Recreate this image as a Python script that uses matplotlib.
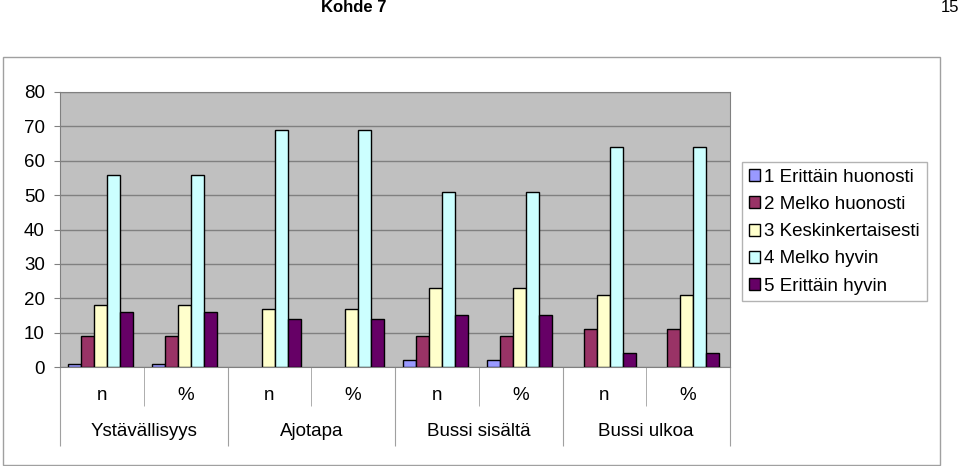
import numpy as np
import matplotlib
matplotlib.use("Agg")
import matplotlib.pyplot as plt
from matplotlib.patches import Rectangle
from matplotlib.transforms import blended_transform_factory

plt.rcParams['font.family'] = ['Liberation Sans', 'DejaVu Sans']

# ---------------- data ----------------
groups = ['Ystävällisyys', 'Ajotapa', 'Bussi sisältä', 'Bussi ulkoa']
sub_labels = ['n', '%']
series_names = ['1 Erittäin huonosti', '2 Melko huonosti', '3 Keskinkertaisesti',
                '4 Melko hyvin', '5 Erittäin hyvin']
s1 = [1, 1, 0, 0, 2, 2, 0, 0]
s2 = [9, 9, 0, 0, 9, 9, 11, 11]
s3 = [18, 18, 17, 17, 23, 23, 21, 21]
s4 = [56, 56, 69, 69, 51, 51, 64, 64]
s5 = [16, 16, 14, 14, 15, 15, 4, 4]
series = [s1, s2, s3, s4, s5]
colors = ['#9999FF', '#993366', '#FFFFCC', '#CCFFFF', '#660066']

fs = 13.5
fig = plt.figure(figsize=(9.6, 4.66), dpi=100)
W, H = 960.0, 466.0

# outer chart frame
fig.patches.append(Rectangle((3 / W, 1 - 465 / H), 937 / W, 408 / H,
                             transform=fig.transFigure, fill=False,
                             edgecolor='#A0A0A0', linewidth=1.0))

# header
fig.text(354 / W, 1 - 8 / H, 'Kohde 7', ha='center', va='center',
         fontsize=12, fontweight='bold')
fig.text(950 / W, 1 - 8 / H, '15', ha='center', va='center', fontsize=12)

ax = fig.add_axes([60 / W, 1 - 367 / H, 670 / W, 275 / H])
ax.set_facecolor('#C0C0C0')

n_cat = len(s1)
x = np.arange(n_cat) + 0.5
bw = 0.155
for i, (vals, c) in enumerate(zip(series, colors)):
    lw = [1.0 if v > 0 else 0 for v in vals]
    ax.bar(x + (i - 2) * bw - 0.015, vals, width=bw, color=c, edgecolor='black',
           linewidth=lw, label=series_names[i], zorder=3)

ax.set_xlim(0, n_cat)
ax.set_ylim(0, 80)
ax.set_yticks(range(0, 81, 10))
ax.yaxis.grid(True, color='#808080', linewidth=1.0, zorder=0)
ax.set_axisbelow(True)
ax.tick_params(axis='y', labelsize=fs, length=4, color='#808080', pad=7)

# category separators as ticks below the axis
ax.set_xticks(range(0, n_cat + 1, 2))
ax.set_xticks(range(1, n_cat, 2), minor=True)
ax.tick_params(axis='x', which='major', length=57, color='#A0A0A0', labelbottom=False)
ax.tick_params(axis='x', which='minor', length=28, color='#A0A0A0', labelbottom=False)

for sp in ax.spines.values():
    sp.set_color('#808080')

trans = blended_transform_factory(ax.transData, fig.transFigure)
for k in range(n_cat):
    ax.text(x[k], 1 - 395 / H, sub_labels[k % 2], transform=trans,
            ha='center', va='center', fontsize=fs)
for g, name in enumerate(groups):
    ax.text(2 * g + 1, 1 - 432 / H, name, transform=trans,
            ha='center', va='center', fontsize=fs)

leg = fig.legend(loc='upper left', bbox_to_anchor=(742 / W, 1 - 162 / H),
                 fontsize=fs, frameon=True, fancybox=False, handlelength=0.6,
                 handleheight=0.6, handletextpad=0.25, labelspacing=0.55,
                 borderpad=0.35, borderaxespad=0)
leg.get_frame().set_edgecolor('#A0A0A0')
leg.get_frame().set_linewidth(1.0)

fig.savefig('out.png', dpi=100)
